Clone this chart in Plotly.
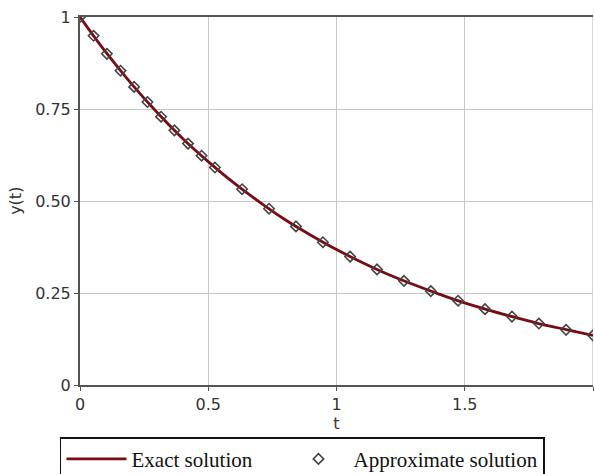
import plotly.graph_objects as go

# Exact solution y(t) sampled along t
t_exact = [0.0, 0.1, 0.2, 0.3, 0.4, 0.5, 0.6, 0.7, 0.8, 0.9, 1.0,
           1.1, 1.2, 1.3, 1.4, 1.5, 1.6, 1.7, 1.8, 1.9, 2.0]
y_exact = [1.000, 0.905, 0.819, 0.741, 0.670, 0.607, 0.549, 0.497, 0.449, 0.407, 0.368,
           0.333, 0.301, 0.273, 0.247, 0.223, 0.202, 0.183, 0.165, 0.150, 0.135]

# Approximate (numerical) solution at the solver's step points
t_approx = [0.0, 0.053, 0.105, 0.158, 0.211, 0.263, 0.316, 0.368, 0.421, 0.474, 0.526,
            0.632, 0.737, 0.842, 0.947, 1.053, 1.158, 1.263, 1.368, 1.474, 1.579,
            1.684, 1.789, 1.895, 2.0]
y_approx = [1.000, 0.949, 0.900, 0.854, 0.810, 0.769, 0.729, 0.692, 0.656, 0.623, 0.591,
            0.532, 0.479, 0.431, 0.388, 0.349, 0.314, 0.283, 0.255, 0.229, 0.206,
            0.186, 0.167, 0.150, 0.135]

x_ticks = [0, 0.5, 1, 1.5, 2]
x_tick_text = ["0", "0.5", "1", "1.5", "2"]
y_ticks = [0, 0.25, 0.5, 0.75, 1]
y_tick_text = ["0", "0.25", "0.50", "0.75", "1"]

tick_font = dict(family="DejaVu Sans", size=16, color="#333333")
axis_col = "#555555"
grid_col = "#c8c8c8"

# non-breaking spaces widen the gap between the two legend entries
pad = "\u00a0" * 5

fig = go.Figure()
fig.add_trace(go.Scatter(
    x=t_exact, y=y_exact, mode="lines", name="Exact solution" + pad,
    line=dict(color="#7a0a14", width=2.8, shape="spline"),
))
fig.add_trace(go.Scatter(
    x=t_approx, y=y_approx, mode="markers", name="Approximate solution",
    marker=dict(symbol="diamond-open", size=8, color="#444444", line=dict(width=1.6, color="#444444")),
))

# grid line along the right edge of the plotting area
fig.add_shape(type="line", xref="x", yref="paper", x0=x_ticks[-1], x1=x_ticks[-1], y0=0, y1=1,
              line=dict(color=grid_col, width=1.5), layer="below")

fig.add_annotation(text="y(t)", textangle=-90, xref="paper", yref="paper",
                   x=-0.127, y=0.5, xanchor="center", yanchor="middle",
                   showarrow=False, font=tick_font)

fig.update_layout(
    width=594, height=474,
    margin=dict(l=80, r=1, t=17, b=89, autoexpand=False),
    paper_bgcolor="white", plot_bgcolor="white",
    showlegend=True,
    legend=dict(
        orientation="h", x=-0.039, y=-0.142, xanchor="left", yanchor="top",
        bordercolor="#111111", borderwidth=1.5, bgcolor="white",
        font=dict(family="Liberation Serif", size=21, color="#111111"),
        itemwidth=60, tracegroupgap=0,
    ),
    xaxis=dict(
        range=[0, 2], tickvals=x_ticks, ticktext=x_tick_text, tickfont=tick_font,
        showgrid=True, gridcolor=grid_col, gridwidth=1, zeroline=False,
        showline=True, linecolor=axis_col, linewidth=2, mirror=True,
        ticks="outside", ticklen=4, tickcolor=axis_col, tickwidth=1,
        title=dict(text="t", font=tick_font, standoff=2),
    ),
    yaxis=dict(
        range=[0, 1], tickvals=y_ticks, ticktext=y_tick_text, tickfont=tick_font,
        showgrid=True, gridcolor=grid_col, gridwidth=1, zeroline=False,
        showline=True, linecolor=axis_col, linewidth=2,
        ticks="outside", ticklen=4, tickcolor=axis_col, tickwidth=1,
    ),
)

fig.write_html("out.html")
